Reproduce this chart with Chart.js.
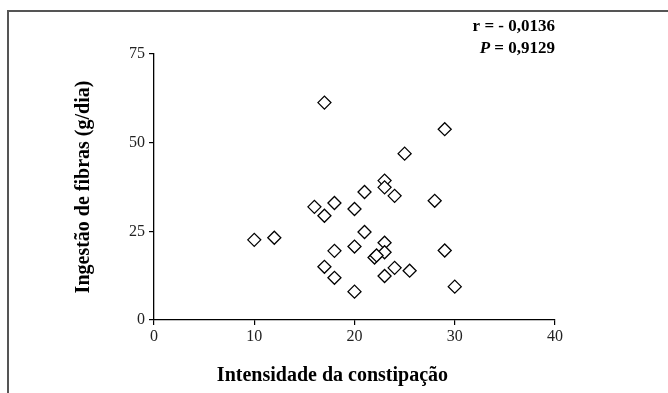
<!DOCTYPE html>
<html>
<head>
<meta charset="utf-8">
<script src="https://cdn.jsdelivr.net/npm/chart.js@4"></script>
<style>
  html, body { margin: 0; padding: 0; background: #fff; }
  #quadro { width: 668px; height: 393px; position: relative; }
</style>
</head>
<body>
<div id="quadro"><canvas id="grafico"></canvas></div>
<script>
const intensidade = [17, 29, 25, 23, 23, 24, 28, 21, 16, 18, 17, 20, 10, 12, 21, 18, 20, 23, 23, 22, 22.2, 17, 18, 20, 23, 24, 25.5, 29, 30];
const fibras = [61.3, 53.8, 46.9, 39.3, 37.4, 35.0, 33.6, 36.1, 31.9, 33.0, 29.4, 31.3, 22.6, 23.2, 24.8, 19.5, 20.7, 21.8, 19.1, 17.6, 18.2, 15.0, 11.9, 8.0, 12.4, 14.7, 13.9, 19.6, 9.4];
const ticksX = [0, 10, 20, 30, 40];
const ticksY = [0, 25, 50, 75];
const tituloX = "Intensidade da constipação";
const tituloY = "Ingestão de fibras (g/dia)";
const textoR = "r = - 0,0136";
const textoP = "P";
const valorP = " = 0,9129";

const FONTE = "'Liberation Serif', 'DejaVu Serif', serif";

// moldura (linha superior e esquerda), titulo do eixo x e texto da correlacao
const extras = {
  id: "extras",
  beforeDraw(chart) {
    const ctx = chart.ctx;
    ctx.save();
    ctx.strokeStyle = "#555";
    ctx.lineWidth = 2;
    ctx.beginPath();
    ctx.moveTo(668, 11);
    ctx.lineTo(8, 11);
    ctx.lineTo(8, 393);
    ctx.stroke();
    ctx.restore();
  },
  afterDraw(chart) {
    const ctx = chart.ctx;
    const area = chart.chartArea;
    ctx.save();
    ctx.fillStyle = "#000";

    ctx.font = "bold 20px " + FONTE;
    ctx.textAlign = "center";
    ctx.textBaseline = "middle";
    ctx.fillText(tituloX, area.left + (area.right - area.left) * 0.445, 376);

    ctx.textAlign = "right";
    ctx.font = "bold 17px " + FONTE;
    ctx.fillText(textoR, area.right, 27);
    const larguraValor = ctx.measureText(valorP).width;
    ctx.fillText(valorP, area.right, 49);
    ctx.font = "italic bold 17px " + FONTE;
    ctx.fillText(textoP, area.right - larguraValor, 49);
    ctx.restore();
  }
};

new Chart(document.getElementById("grafico"), {
  type: "scatter",
  data: {
    datasets: [
      {
        data: intensidade.map((x, i) => ({ x, y: fibras[i] })),
        pointStyle: "rectRot",
        pointRadius: 6.5,
        pointHoverRadius: 6.5,
        pointBackgroundColor: "#fff",
        pointBorderColor: "#000",
        pointBorderWidth: 1.3
      }
    ]
  },
  plugins: [extras],
  options: {
    responsive: true,
    maintainAspectRatio: false,
    animation: false,
    events: [],
    layout: { padding: { top: 54, right: 113, left: 0, bottom: 0 } },
    plugins: {
      legend: { display: false },
      tooltip: { enabled: false }
    },
    scales: {
      x: {
        type: "linear",
        min: ticksX[0],
        max: ticksX[ticksX.length - 1],
        afterBuildTicks: scale => { scale.ticks = ticksX.map(v => ({ value: v })); },
        afterFit: scale => { scale.height = 73; },
        border: { display: true, color: "#000", width: 1.3 },
        grid: { drawOnChartArea: false, drawTicks: true, tickLength: 5, color: "#000", lineWidth: 1.2 },
        ticks: { color: "#222", font: { family: FONTE, size: 16 }, padding: 2, maxRotation: 0 }
      },
      y: {
        type: "linear",
        min: ticksY[0],
        max: ticksY[ticksY.length - 1],
        afterBuildTicks: scale => { scale.ticks = ticksY.map(v => ({ value: v })); },
        afterFit: scale => { scale.width = 154; },
        border: { display: true, color: "#000", width: 1.3 },
        grid: { drawOnChartArea: false, drawTicks: true, tickLength: 5, color: "#000", lineWidth: 1.2 },
        ticks: { color: "#222", font: { family: FONTE, size: 16 }, padding: 4 },
        title: {
          display: true,
          text: tituloY,
          color: "#000",
          font: { family: FONTE, size: 20, weight: "bold" },
          padding: { top: 72, bottom: 0 }
        }
      }
    }
  }
});
</script>
</body>
</html>
